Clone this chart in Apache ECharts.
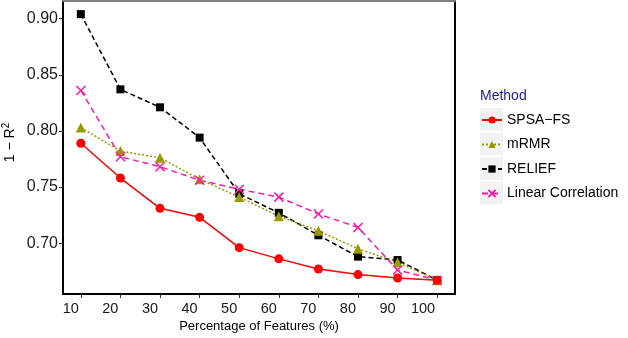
<!DOCTYPE html>
<html>
<head>
<meta charset="utf-8">
<script src="https://cdn.jsdelivr.net/npm/echarts@6/dist/echarts.min.js"></script>
<style>
  html, body { margin: 0; padding: 0; background: #fff; }
  #chart { width: 628px; height: 338px; }
</style>
</head>
<body>
<div id="chart"></div>
<script>
// percentage of features kept
const pcts = [10, 20, 30, 40, 50, 60, 70, 80, 90, 100];
const spsaFs = [0.789, 0.758, 0.731, 0.723, 0.696, 0.686, 0.677, 0.672, 0.669, 0.667];
const mrmr = [0.803, 0.782, 0.776, 0.757, 0.741, 0.724, 0.711, 0.695, 0.683, 0.667];
const relief = [0.904, 0.837, 0.821, 0.794, 0.744, 0.727, 0.707, 0.688, 0.685, 0.667];
const linCorr = [0.836, 0.777, 0.768, 0.756, 0.748, 0.741, 0.726, 0.714, 0.676, 0.667];
const xTicks = [10, 20, 30, 40, 50, 60, 70, 80, 90, 100];
const yTicks = [0.70, 0.75, 0.80, 0.85, 0.90];

const font = 'Liberation Sans, Arial, sans-serif';
const pair = arr => pcts.map((p, i) => [p, arr[i]]);

document.addEventListener('DOMContentLoaded', () => {
  const chart = echarts.init(document.getElementById('chart'));

  const mkSeries = (name, data, color, symbol, size, lineType) => ({
    name: name,
    type: 'line',
    data: pair(data),
    symbol: symbol,
    symbolSize: size,
    showSymbol: true,
    lineStyle: { color: color, width: 1.5, type: lineType },
    itemStyle: { color: color, borderColor: color, borderWidth: symbol.startsWith('path') ? 1.5 : 0, opacity: 1 },
    emphasis: { disabled: true },
    animation: false,
    z: 3
  });

  const option = {
    backgroundColor: '#fff',
    animation: false,
    textStyle: { fontFamily: font },
    grid: { left: 63, right: 173, top: 1, bottom: 44, outerBoundsMode: 'none', containLabel: false },
    xAxis: [{
      type: 'value', min: 5.5, max: 104.5,
      name: 'Percentage of Features (%)', nameLocation: 'middle', nameGap: 26, nameMoveOverlap: false,
      nameTextStyle: { fontSize: 13, color: '#000', fontFamily: font, verticalAlign: 'top' },
      axisLine: { show: true, onZero: false, lineStyle: { color: '#000', width: 2 } },
      axisTick: { show: true, customValues: xTicks, length: 4, lineStyle: { color: '#333' } },
      axisLabel: {
        customValues: xTicks, fontSize: 14.5, color: '#1a1a1a', margin: 7, fontFamily: font,
        align: 'right', padding: [0, 2, 0, 0]
      },
      splitLine: { show: false }
    }, {
      type: 'value', position: 'top', min: 5.5, max: 104.5,
      axisLine: { show: true, lineStyle: { color: '#7f7f7f', width: 2 } },
      axisTick: { show: false }, axisLabel: { show: false }, splitLine: { show: false }
    }],
    yAxis: [{
      type: 'value', min: 0.6547, max: 0.9157,
      name: '{a|1 − R}{s|2}', nameLocation: 'middle', nameGap: 44, nameRotate: 90, nameMoveOverlap: false,
      nameTextStyle: {
        color: '#000', fontFamily: font, padding: [0, 0, 0, 10],
        rich: {
          a: { fontSize: 14, fontFamily: font, color: '#000', lineHeight: 18 },
          s: { fontSize: 10, fontFamily: font, color: '#000', verticalAlign: 'top', lineHeight: 18 }
        }
      },
      axisLine: { show: true, onZero: false, lineStyle: { color: '#000', width: 2 } },
      axisTick: { show: true, customValues: yTicks, length: 4, lineStyle: { color: '#333' } },
      axisLabel: {
        customValues: yTicks, fontSize: 16, color: '#1a1a1a', margin: 5, fontFamily: font,
        formatter: v => v.toFixed(2)
      },
      splitLine: { show: false }
    }, {
      type: 'value', position: 'right', min: 0.6547, max: 0.9157,
      axisLine: { show: true, lineStyle: { color: '#000', width: 2 } },
      axisTick: { show: false }, axisLabel: { show: false }, splitLine: { show: false }
    }],
    legend: {
      orient: 'vertical', left: 481, top: 110, padding: 0,
      itemWidth: 20, itemHeight: 9, itemGap: 4.5,
      textStyle: { fontSize: 14, color: '#000', fontFamily: font, lineHeight: 20 },
      data: ['SPSA−FS', 'mRMR', 'RELIEF', 'Linear Correlation'],
      selectedMode: false
    },
    graphic: [
      { type: 'text', left: 480, top: 89, style: { text: 'Method', fontSize: 14, fill: '#1a1aa0', fontFamily: font } },
      { type: 'rect', shape: { x: 480, y: 108, width: 23, height: 23 }, style: { fill: '#f2f2f2' }, z: -1 },
      { type: 'rect', shape: { x: 480, y: 132.5, width: 23, height: 23 }, style: { fill: '#f2f2f2' }, z: -1 },
      { type: 'rect', shape: { x: 480, y: 157, width: 23, height: 23 }, style: { fill: '#f2f2f2' }, z: -1 },
      { type: 'rect', shape: { x: 480, y: 181.5, width: 23, height: 23 }, style: { fill: '#f2f2f2' }, z: -1 }
    ],
    series: [
      mkSeries('RELIEF', relief, '#000000', 'rect', 8, [5, 3]),
      mkSeries('mRMR', mrmr, '#999900', 'triangle', 10, [2, 2]),
      mkSeries('Linear Correlation', linCorr, '#ff1aa8', 'path://M0,0L10,10M10,0L0,10', 9, [6, 4]),
      mkSeries('SPSA−FS', spsaFs, '#ff0000', 'circle', 9, 'solid')
    ]
  };
  chart.setOption(option);
});
</script>
</body>
</html>
